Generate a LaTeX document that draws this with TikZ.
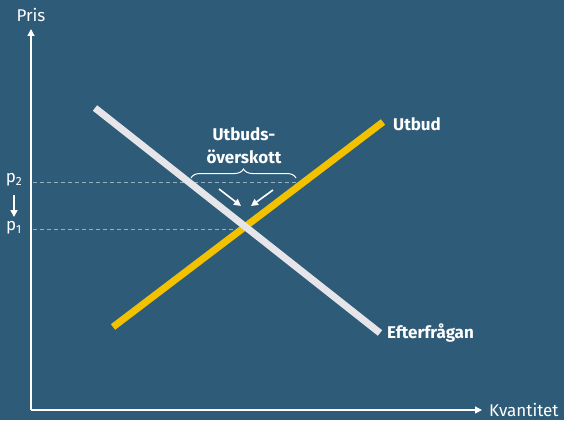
\documentclass[tikz,border=0pt]{standalone}
\usepackage{fontspec}
\setmainfont{Fira Sans}
\usetikzlibrary{arrows.meta,decorations.pathreplacing}
\definecolor{bg}{RGB}{46,91,120}
\definecolor{demand}{RGB}{230,230,234}
\definecolor{supply}{RGB}{242,194,0}
\definecolor{guide}{RGB}{150,175,195}
\tikzset{
  axis/.style={draw=white,line width=1.3pt,-{Triangle[length=7pt,width=7pt]}},
  curve/.style={line width=7pt},
  guideline/.style={draw=guide,line width=0.8pt,dash pattern=on 4pt off 3pt},
  lbl/.style={text=white,font=\fontsize{17}{19}\selectfont,inner sep=0pt},
  bold/.style={text=white,font=\fontsize{17}{23}\selectfont\bfseries,inner sep=0pt,align=center},
  small/.style={draw=white,line width=1.6pt,-{Triangle[length=7pt,width=7pt]}}
}
\begin{document}
\begin{tikzpicture}[x=1pt,y=-1pt]
\fill[bg] (0,0) rectangle (564,420);
\useasboundingbox (0,0) rectangle (564,420);
\coordinate (O) at (31,410);
\coordinate (Ytop) at (31,29);
\coordinate (Xend) at (482,410);
\draw[axis] (O) -- (Ytop);
\draw[axis] (O) -- (Xend);
\node[lbl,anchor=south] (pris) at (31,22) {Pris};
\node[lbl,anchor=west] (kv) at (489,410) {Kvantitet};
% guides
\coordinate (p2a) at (33,182);
\coordinate (p2b) at (296,182);
\coordinate (p1a) at (33,229);
\coordinate (p1b) at (243,229);
\draw[guideline] (p2a) -- (p2b);
\draw[guideline] (p1a) -- (p1b);
% curves
\coordinate (d1) at (95,108);
\coordinate (d2) at (380,333);
\coordinate (s1) at (113,327);
\coordinate (s2) at (383,122);
\draw[curve,supply] (s1) -- (s2);
\draw[curve,demand] (d1) -- (d2);
\node[bold,anchor=west] (utbud) at (393,124) {Utbud};
\node[bold,anchor=west] (eft) at (387,333) {Efterfrågan};
% p labels
\node[lbl] (p2) at (14,180) {p\textsubscript{2}};
\node[lbl] (p1) at (14,228) {p\textsubscript{1}};
\coordinate (pa) at (14,195);
\coordinate (pb) at (14,217);
\draw[small] (pa) -- (pb);
% brace
\coordinate (b1) at (191,178);
\coordinate (b2) at (296,178);
\draw[white,line width=1pt,decorate,decoration={brace,amplitude=9pt}] (b1) -- (b2);
\node[bold] (ov) at (244,146) {Utbuds-\\överskott};
% small arrows
\coordinate (a1s) at (219,189);
\coordinate (a1e) at (241,206);
\coordinate (a2s) at (273,190);
\coordinate (a2e) at (251,206);
\draw[small] (a1s) -- (a1e);
\draw[small] (a2s) -- (a2e);
\end{tikzpicture}
\end{document}
